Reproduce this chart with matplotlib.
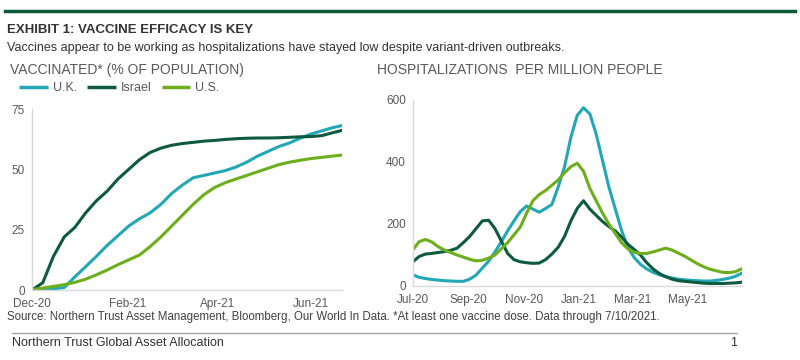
import matplotlib
matplotlib.use('Agg')
import matplotlib.pyplot as plt
import matplotlib.dates as mdates
from matplotlib.lines import Line2D
import pandas as pd

plt.rcParams['font.family'] = ['Liberation Sans', 'DejaVu Sans']

# colours
UK_C = '#22a7b6'
IL_C = '#0d5a40'
US_C = '#6cae1c'
GRAY = '#595959'

# vaccinated, % of population, weekly from 2020-12-20
vax_dates = pd.date_range('2020-12-20', periods=30, freq='7D')
vax_uk = [0.5, 0.5, 0.5, 1, 5.5, 9.7, 14, 18.5, 22.5, 26.5, 29.5, 32, 35.5, 40, 43.5,
          46.5, 47.5, 48.5, 49.5, 51, 53, 55.5, 57.5, 59.5, 61, 63, 64.7, 66, 67.3, 68.3]
vax_il = [0, 3, 14, 22, 26, 32, 37, 41, 46, 50, 54, 57, 58.8, 60, 60.7,
          61.2, 61.7, 62, 62.4, 62.7, 62.9, 63, 63, 63.1, 63.3, 63.5, 63.6, 64, 65.2, 66.3]
vax_us = [0.2, 0.8, 1.5, 2.2, 3.2, 4.5, 6.3, 8.3, 10.5, 12.5, 14.5, 18, 22, 26.5, 31,
          35.5, 39.5, 42.5, 44.5, 46, 47.5, 49, 50.5, 52, 53, 53.8, 54.5, 55, 55.5, 56]
vax_ticks = pd.to_datetime(['2020-12-20', '2021-02-20', '2021-04-20', '2021-06-20'])

# hospitalizations per million, weekly from 2020-07-10
hosp_dates = pd.date_range('2020-07-10', periods=53, freq='7D')
hosp_uk = [36, 28, 24, 21, 19, 17, 16, 15, 15, 22, 35, 58, 80, 110, 143, 178, 210, 240,
           258, 248, 238, 250, 263, 320, 385, 480, 550, 575, 555, 490, 405, 320, 250, 180,
           125, 92, 70, 55, 44, 36, 30, 26, 22, 20, 18, 17, 16, 16, 18, 21, 25, 31, 41]
hosp_il = [78, 95, 103, 105, 108, 111, 115, 122, 140, 160, 185, 210, 212, 185, 145, 105,
           85, 78, 75, 73, 74, 85, 103, 125, 160, 210, 250, 275, 248, 228, 208, 192, 178,
           158, 135, 118, 100, 75, 55, 40, 30, 22, 17, 15, 13, 11, 9, 8, 8, 8, 9, 10, 12]
hosp_us = [116, 143, 150, 142, 127, 116, 108, 100, 93, 86, 81, 83, 90, 100, 120, 140, 165,
           190, 235, 275, 295, 308, 325, 342, 365, 385, 396, 370, 315, 275, 235, 200, 170,
           140, 120, 109, 105, 105, 110, 116, 122, 116, 106, 96, 84, 72, 62, 54, 49, 44, 43,
           46, 55]
hosp_ticks = pd.to_datetime(['2020-07-10', '2020-09-10', '2020-11-10', '2021-01-10',
                             '2021-03-10', '2021-05-10'])

fig = plt.figure(figsize=(8, 3.6), dpi=100)


def style(ax):
    for s in ['top', 'right']:
        ax.spines[s].set_visible(False)
    for s in ['left', 'bottom']:
        ax.spines[s].set_color('#d9d9d9')
        ax.spines[s].set_linewidth(1)
    ax.tick_params(length=0, labelsize=8.5, colors=GRAY)
    ax.tick_params(axis='x', pad=6)
    ax.tick_params(axis='y', pad=5)
    ax.xaxis.set_major_formatter(mdates.DateFormatter('%b-%y'))


ax1 = fig.add_axes([0.04, 0.1944, 0.3875, 0.5027])
ax1.plot(vax_dates, vax_uk, color=UK_C, lw=2.2)
ax1.plot(vax_dates, vax_il, color=IL_C, lw=2.2)
ax1.plot(vax_dates, vax_us, color=US_C, lw=2.2)
ax1.set_ylim(0, 75)
ax1.set_yticks([0, 25, 50, 75])
ax1.set_xlim(vax_dates[0], pd.Timestamp('2021-07-10'))
ax1.set_xticks(vax_ticks)
style(ax1)

ax2 = fig.add_axes([0.516, 0.2056, 0.411, 0.5167])
ax2.plot(hosp_dates, hosp_uk, color=UK_C, lw=2.2)
ax2.plot(hosp_dates, hosp_il, color=IL_C, lw=2.2)
ax2.plot(hosp_dates, hosp_us, color=US_C, lw=2.2)
ax2.set_ylim(0, 600)
ax2.set_yticks([0, 200, 400, 600])
ax2.set_xlim(hosp_dates[0], hosp_dates[-1])
ax2.set_xticks(hosp_ticks)
style(ax2)

# legend
handles = [Line2D([], [], color=c, lw=2.5, solid_capstyle='butt') for c in (UK_C, IL_C, US_C)]
fig.legend(handles, ['U.K.', 'Israel', 'U.S.'], loc='center left',
           bbox_to_anchor=(0.024, 0.755), ncol=3, frameon=False, fontsize=9,
           handlelength=2.3, handletextpad=0.4, columnspacing=0.8,
           labelcolor=GRAY, borderaxespad=0, borderpad=0)

# header
fig.add_artist(Line2D([0.006, 0.994], [0.97, 0.97], color='#0b5a3a', lw=2.5))
fig.text(0.009, 0.918, 'EXHIBIT 1: VACCINE EFFICACY IS KEY', fontsize=9.5,
         fontweight='bold', color='#333333', va='center')
fig.text(0.009, 0.868, 'Vaccines appear to be working as hospitalizations have stayed low '
         'despite variant-driven outbreaks.', fontsize=9, color='#333333', va='center')
fig.text(0.012, 0.805, 'VACCINATED* (% OF POPULATION)', fontsize=10, color=GRAY, va='center')
fig.text(0.471, 0.805, 'HOSPITALIZATIONS  PER MILLION PEOPLE', fontsize=10, color=GRAY,
         va='center')

# footer
fig.text(0.009, 0.12, 'Source: Northern Trust Asset Management, Bloomberg, Our World In '
         'Data. *At least one vaccine dose. Data through 7/10/2021.', fontsize=8.3,
         color='#404040', va='center')
fig.add_artist(Line2D([0.015, 0.921], [0.075, 0.075], color='#a6a6a6', lw=1))
fig.text(0.015, 0.047, 'Northern Trust Global Asset Allocation', fontsize=9,
         color='#333333', va='center')
fig.text(0.921, 0.047, '1', fontsize=9, color='#333333', va='center', ha='right')

fig.savefig('out.png', dpi=100, facecolor='white')
